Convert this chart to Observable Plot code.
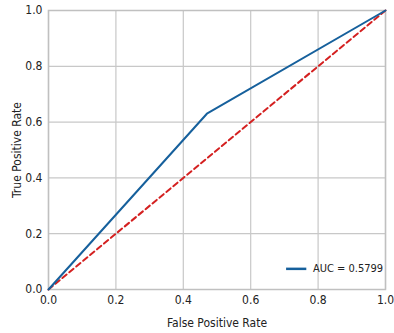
<!DOCTYPE html>
<html><head><meta charset="utf-8">
<script src="https://cdn.jsdelivr.net/npm/d3@7"></script>
<script src="https://cdn.jsdelivr.net/npm/@observablehq/plot@0.6"></script>
<style>
html,body{margin:0;padding:0;background:#fff;}
#chart svg{font-family:"Liberation Sans Narrow","DejaVu Sans Condensed","Liberation Sans",sans-serif;}
#chart svg [aria-label$="label"] text{font-size:12px;}
</style></head>
<body><div id="chart"></div>
<script>
const fpr = [0.0, 0.47, 1.0];
const tpr = [0.0, 0.63, 1.0];
const chanceX = [0, 1];
const chanceY = [0, 1];
const ticks = [0, 0.2, 0.4, 0.6, 0.8, 1.0];
const legendLabel = "AUC = 0.5799";

const roc = fpr.map((x, i) => ({x, y: tpr[i]}));
const chance = chanceX.map((x, i) => ({x, y: chanceY[i]}));

const chart = Plot.plot({
  width: 394, height: 333,
  marginLeft: 48, marginRight: 9, marginTop: 10, marginBottom: 44,
  style: {fontSize: "11px", background: "#fff", color: "#222"},
  x: {domain: [0, 1], ticks, tickFormat: d3.format(".1f"), label: "False Positive Rate", labelAnchor: "center", labelArrow: "none", labelOffset: 37, tickSize: 0, tickPadding: 6},
  y: {domain: [0, 1], ticks, tickFormat: d3.format(".1f"), label: "True Positive Rate", labelAnchor: "center", labelArrow: "none", labelOffset: 36, tickSize: 0, tickPadding: 6},
  marks: [
    Plot.gridX(ticks, {stroke: "#c8c8c8", strokeOpacity: 1, strokeWidth: 1.2}),
    Plot.gridY(ticks, {stroke: "#c8c8c8", strokeOpacity: 1, strokeWidth: 1.2}),
    Plot.frame({stroke: "#c0c0c0", strokeWidth: 1.5}),
    Plot.line(chance, {x: "x", y: "y", stroke: "#d42020", strokeWidth: 2, strokeDasharray: "5.5,3.5"}),
    Plot.line(roc, {x: "x", y: "y", stroke: "#16609c", strokeWidth: 2}),
    Plot.link([{x1: 0.705, x2: 0.765, y: 0.074}], {x1: "x1", x2: "x2", y1: "y", y2: "y", stroke: "#16609c", strokeWidth: 2.5}),
    Plot.text([{x: 0.785, y: 0.074, t: legendLabel}], {x: "x", y: "y", text: "t", textAnchor: "start", fill: "#222", fontSize: 11})
  ]
});
document.getElementById("chart").appendChild(chart);
</script></body></html>
